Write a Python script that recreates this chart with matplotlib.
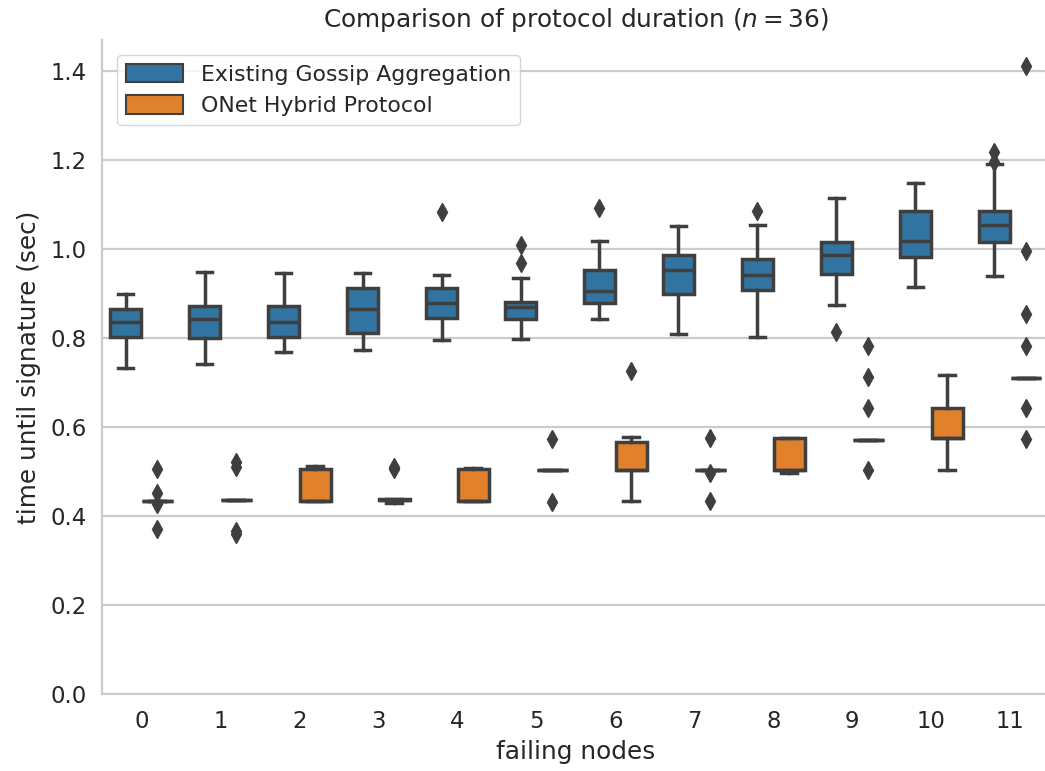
import numpy as np
import matplotlib
matplotlib.use("Agg")
import matplotlib.pyplot as plt
from matplotlib.patches import Patch

# data (box statistics per failing-node count)
failing_nodes = list(range(12))
series_names = ["Existing Gossip Aggregation", "ONet Hybrid Protocol"]

gossip_lo = [0.732, 0.741, 0.768, 0.773, 0.795, 0.798, 0.842, 0.809, 0.803, 0.875, 0.915, 0.939]
gossip_q1 = [0.803, 0.800, 0.803, 0.812, 0.845, 0.842, 0.878, 0.900, 0.909, 0.944, 0.981, 1.016]
gossip_med = [0.837, 0.842, 0.837, 0.866, 0.879, 0.870, 0.905, 0.953, 0.942, 0.986, 1.019, 1.053]
gossip_q3 = [0.866, 0.873, 0.873, 0.912, 0.912, 0.881, 0.953, 0.986, 0.978, 1.016, 1.085, 1.085]
gossip_hi = [0.899, 0.948, 0.945, 0.945, 0.941, 0.935, 1.019, 1.052, 1.055, 1.115, 1.148, 1.190]
gossip_fliers = [[], [], [], [], [1.083], [1.010, 0.969], [1.091], [], [1.086],
                 [0.813], [], [1.218, 1.196]]

onet_lo = [0.435, 0.437, 0.435, 0.430, 0.434, 0.504, 0.435, 0.504, 0.498, 0.572, 0.504, 0.711]
onet_q1 = [0.435, 0.437, 0.435, 0.437, 0.434, 0.504, 0.504, 0.504, 0.504, 0.572, 0.575, 0.711]
onet_med = [0.435, 0.437, 0.435, 0.437, 0.434, 0.504, 0.504, 0.504, 0.504, 0.572, 0.575, 0.711]
onet_q3 = [0.435, 0.437, 0.506, 0.439, 0.506, 0.504, 0.566, 0.504, 0.575, 0.572, 0.644, 0.711]
onet_hi = [0.435, 0.437, 0.512, 0.439, 0.509, 0.504, 0.578, 0.504, 0.575, 0.572, 0.717, 0.711]
onet_fliers = [[0.507, 0.452, 0.428, 0.371], [0.521, 0.511, 0.366, 0.360], [], [0.506, 0.511],
               [], [0.573, 0.432], [0.726], [0.575, 0.498, 0.434], [],
               [0.783, 0.713, 0.642, 0.504], [], [1.412, 0.995, 0.854, 0.783, 0.644, 0.573]]

colors = ["#3274a1", "#e1812c"]
gray = "#3f3f3f"
txt = "#262626"


def make_stats(lo, q1, med, q3, hi, fl):
    return [dict(whislo=a, q1=b, med=c, q3=d, whishi=e, fliers=f)
            for a, b, c, d, e, f in zip(lo, q1, med, q3, hi, fl)]


plt.rcParams['font.family'] = ['DejaVu Sans']
fig = plt.figure(figsize=(10.45, 7.71), dpi=100)
ax = fig.add_axes([0.0975, 0.0995, 0.907, 0.849])

groups = [
    make_stats(gossip_lo, gossip_q1, gossip_med, gossip_q3, gossip_hi, gossip_fliers),
    make_stats(onet_lo, onet_q1, onet_med, onet_q3, onet_hi, onet_fliers),
]
x = np.arange(len(failing_nodes))
lw = 2.5
for i, (stats, c) in enumerate(zip(groups, colors)):
    pos = x + (-0.2 if i == 0 else 0.2)
    ax.bxp(stats, positions=pos, widths=0.392, patch_artist=True, manage_ticks=False,
           boxprops=dict(facecolor=c, edgecolor=gray, linewidth=lw),
           medianprops=dict(color=gray, linewidth=lw),
           whiskerprops=dict(color=gray, linewidth=lw),
           capprops=dict(color=gray, linewidth=lw),
           flierprops=dict(marker="d", markerfacecolor=gray, markeredgecolor=gray,
                           markersize=9, linestyle="none"),
           zorder=3)

ax.set_xlim(-0.5, 11.5)
ax.set_ylim(0, 1.47)
ax.set_xticks(x)
ax.set_xticklabels([str(n) for n in failing_nodes])
ax.set_yticks(np.arange(0, 1.41, 0.2))
ax.set_yticklabels([f"{v:.1f}" for v in np.arange(0, 1.41, 0.2)])
ax.tick_params(length=0, labelsize=16.4, labelcolor=txt, pad=11)
ax.yaxis.grid(True, color="#cccccc", linewidth=1.6, zorder=0)
ax.xaxis.grid(False)
ax.set_axisbelow(True)
for s in ["top", "right"]:
    ax.spines[s].set_visible(False)
for s in ["left", "bottom"]:
    ax.spines[s].set_color("#cccccc")
    ax.spines[s].set_linewidth(1.6)

ax.set_xlabel("failing nodes", fontsize=17.8, color=txt, labelpad=5)
ax.set_ylabel("time until signature (sec)", fontsize=17.8, color=txt, labelpad=7)
ax.set_title("Comparison of protocol duration ($n = 36$)", fontsize=17.8, color=txt, pad=9)

handles = [Patch(facecolor=c, edgecolor=gray, linewidth=1.5, label=n)
           for c, n in zip(colors, series_names)]
leg = ax.legend(handles=handles, loc="upper left", fontsize=15.8, frameon=True,
                edgecolor="#cccccc", fancybox=True, handlelength=2.6, handleheight=0.9,
                borderaxespad=0.7)
for t in leg.get_texts():
    t.set_color(txt)

fig.savefig("out.png", dpi=100)
